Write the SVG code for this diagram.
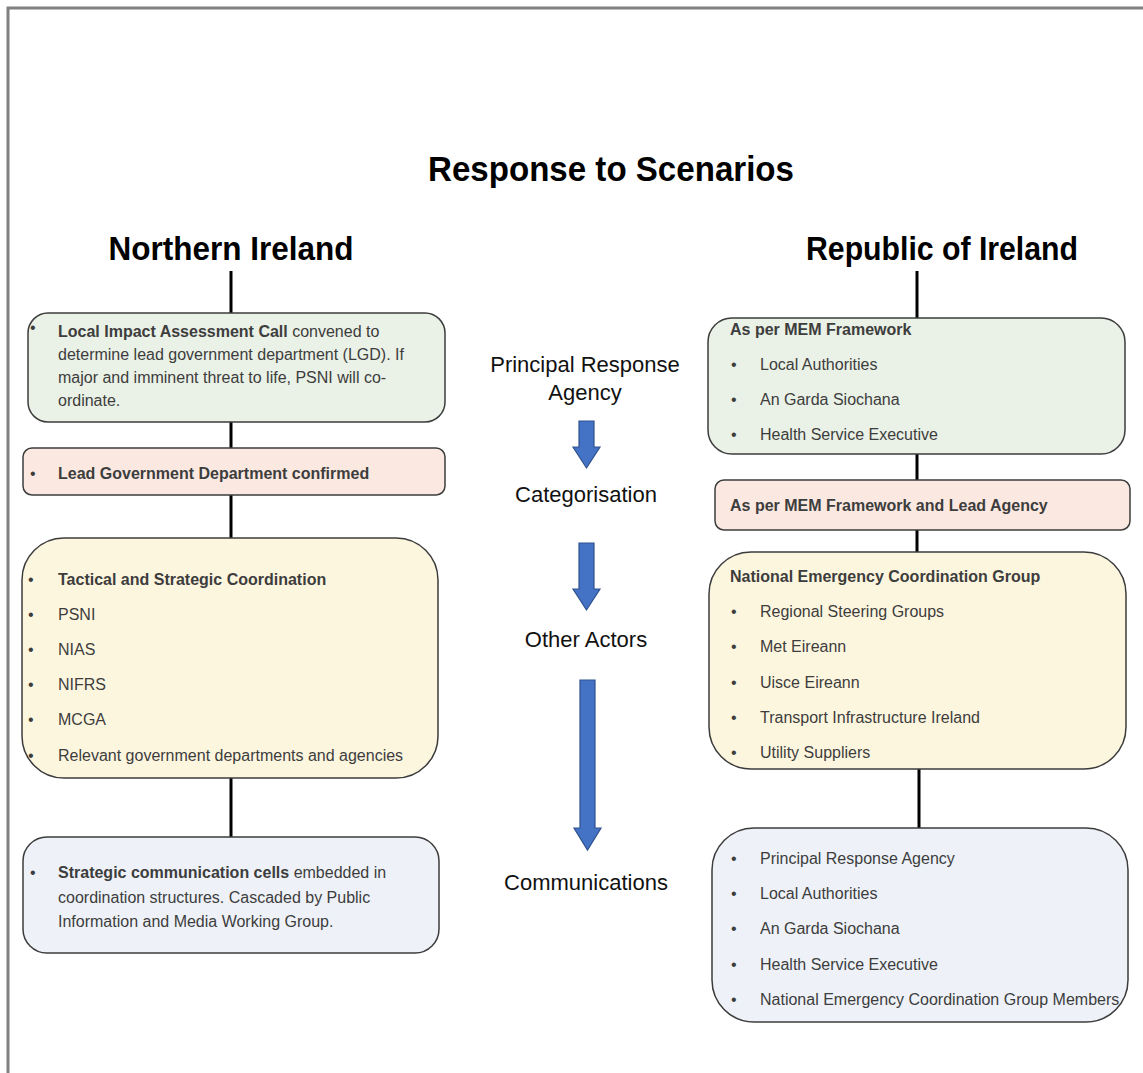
<svg xmlns="http://www.w3.org/2000/svg" width="1143" height="1073" viewBox="0 0 1143 1073">
<style>
.box{stroke:#3c3c3c;stroke-width:1.5}
.g{fill:#eaf1e6}.p{fill:#fbe9e1}.y{fill:#fdf6df}.b{fill:#eef2f8}
.t{font-family:"Liberation Sans",Arial,sans-serif;font-size:16px;fill:#3d3d3d}
.bd{font-weight:bold}
.h{font-family:"Liberation Sans",Arial,sans-serif;font-weight:bold;fill:#000}
.m{font-family:"Liberation Sans",Arial,sans-serif;font-size:22px;fill:#111;text-anchor:middle}
.ln{stroke:#000;stroke-width:3;fill:none}
.arr{fill:#4472c4;stroke:#2f528f;stroke-width:1.2}
</style>
<rect x="0" y="0" width="1143" height="1073" fill="#fff"/>
<path d="M8 1073 V8 H1143" fill="none" stroke="#808080" stroke-width="3"/>

<text class="h" x="611" y="181" font-size="35" text-anchor="middle" textLength="366" lengthAdjust="spacingAndGlyphs">Response to Scenarios</text>
<text class="h" x="231" y="260" font-size="33" text-anchor="middle" textLength="245" lengthAdjust="spacingAndGlyphs">Northern Ireland</text>
<text class="h" x="942" y="260" font-size="33" text-anchor="middle" textLength="272" lengthAdjust="spacingAndGlyphs">Republic of Ireland</text>

<g id="connectors">
<line class="ln" x1="231" y1="271" x2="231" y2="313"/>
<line class="ln" x1="231" y1="422" x2="231" y2="448"/>
<line class="ln" x1="231" y1="495" x2="231" y2="538"/>
<line class="ln" x1="231" y1="778" x2="231" y2="837"/>
<line class="ln" x1="917" y1="271" x2="917" y2="318"/>
<line class="ln" x1="917" y1="454" x2="917" y2="480"/>
<line class="ln" x1="917" y1="530" x2="917" y2="552"/>
<line class="ln" x1="919" y1="769" x2="919" y2="828"/>
</g>

<g id="ni-assessment">
<rect class="box g" x="28" y="313" width="417" height="109" rx="20"/>
<text class="t" x="30" y="333">•</text>
<text class="t" x="58" y="337"><tspan class="bd">Local Impact Assessment Call</tspan> convened to</text>
<text class="t" x="58" y="360">determine lead government department (LGD). If</text>
<text class="t" x="58" y="383">major and imminent threat to life, PSNI will co-</text>
<text class="t" x="58" y="406">ordinate.</text>
</g>

<g id="ni-lgd">
<rect class="box p" x="23" y="448" width="422" height="47" rx="9"/>
<text class="t" x="30" y="479">•</text>
<text class="t bd" x="58" y="479">Lead Government Department confirmed</text>
</g>

<g id="ni-coordination">
<rect class="box y" x="22" y="538" width="416" height="240" rx="42"/>
<text class="t" x="28" y="585">•</text><text class="t bd" x="58" y="585">Tactical and Strategic Coordination</text>
<text class="t" x="28" y="620">•</text><text class="t" x="58" y="620">PSNI</text>
<text class="t" x="28" y="655">•</text><text class="t" x="58" y="655">NIAS</text>
<text class="t" x="28" y="690">•</text><text class="t" x="58" y="690">NIFRS</text>
<text class="t" x="28" y="725">•</text><text class="t" x="58" y="725">MCGA</text>
<text class="t" x="28" y="761">•</text><text class="t" x="58" y="761">Relevant government departments and agencies</text>
</g>

<g id="ni-communications">
<rect class="box b" x="23" y="837" width="416" height="116" rx="24"/>
<text class="t" x="30" y="878">•</text>
<text class="t" x="58" y="878"><tspan class="bd">Strategic communication cells</tspan> embedded in</text>
<text class="t" x="58" y="903">coordination structures. Cascaded by Public</text>
<text class="t" x="58" y="927">Information and Media Working Group.</text>
</g>

<g id="roi-mem">
<rect class="box g" x="708" y="318" width="417" height="136" rx="24"/>
<text class="t bd" x="730" y="335">As per MEM Framework</text>
<text class="t" x="731" y="370">•</text><text class="t" x="760" y="370">Local Authorities</text>
<text class="t" x="731" y="405">•</text><text class="t" x="760" y="405">An Garda Siochana</text>
<text class="t" x="731" y="440">•</text><text class="t" x="760" y="440">Health Service Executive</text>
</g>

<g id="roi-lead">
<rect class="box p" x="715" y="480" width="415" height="50" rx="9"/>
<text class="t bd" x="730" y="511">As per MEM Framework and Lead Agency</text>
</g>

<g id="roi-necg">
<rect class="box y" x="709" y="552" width="417" height="217" rx="42"/>
<text class="t bd" x="730" y="582">National Emergency Coordination Group</text>
<text class="t" x="731" y="617">•</text><text class="t" x="760" y="617">Regional Steering Groups</text>
<text class="t" x="731" y="652">•</text><text class="t" x="760" y="652">Met Eireann</text>
<text class="t" x="731" y="688">•</text><text class="t" x="760" y="688">Uisce Eireann</text>
<text class="t" x="731" y="723">•</text><text class="t" x="760" y="723">Transport Infrastructure Ireland</text>
<text class="t" x="731" y="758">•</text><text class="t" x="760" y="758">Utility Suppliers</text>
</g>

<g id="roi-communications">
<rect class="box b" x="712" y="828" width="416" height="194" rx="42"/>
<text class="t" x="731" y="864">•</text><text class="t" x="760" y="864">Principal Response Agency</text>
<text class="t" x="731" y="899">•</text><text class="t" x="760" y="899">Local Authorities</text>
<text class="t" x="731" y="934">•</text><text class="t" x="760" y="934">An Garda Siochana</text>
<text class="t" x="731" y="970">•</text><text class="t" x="760" y="970">Health Service Executive</text>
<text class="t" x="731" y="1005">•</text><text class="t" x="760" y="1005">National Emergency Coordination Group Members</text>
</g>

<g id="stages">
<text class="m" x="585" y="372">Principal Response</text>
<text class="m" x="585" y="400">Agency</text>
<path class="arr" d="M579 421 H594 V447 H600 L586.5 468 L573 447 H579 Z"/>
<text class="m" x="586" y="502">Categorisation</text>
<path class="arr" d="M579 543 H594 V589 H600 L586.5 610 L573 589 H579 Z"/>
<text class="m" x="586" y="647">Other Actors</text>
<path class="arr" d="M580 680 H595 V828 H601 L587.5 850 L574 828 H580 Z"/>
<text class="m" x="586" y="890">Communications</text>
</g>
</svg>
